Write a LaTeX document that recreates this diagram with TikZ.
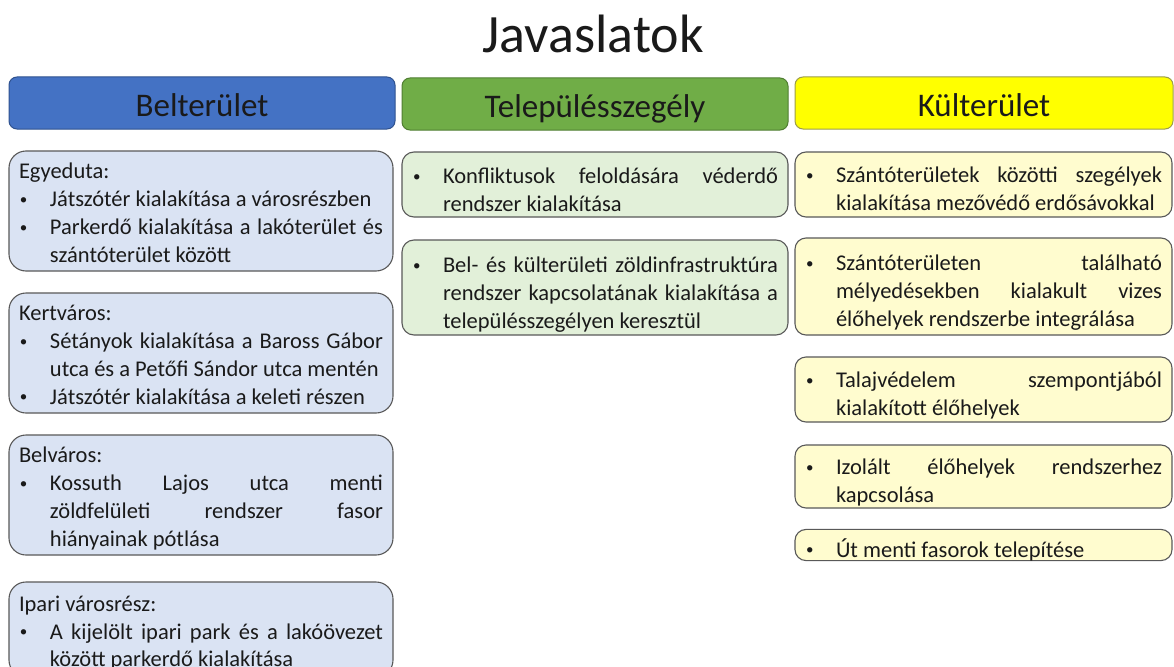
\documentclass[tikz,border=0pt]{standalone}
\usepackage{fontspec}
\setmainfont{Carlito}
\definecolor{hblue}{HTML}{4472C4}
\definecolor{hblueedge}{HTML}{2F528F}
\definecolor{hgreen}{HTML}{70AD47}
\definecolor{hgreenedge}{HTML}{507E32}
\definecolor{hyellow}{HTML}{FFFF00}
\definecolor{hyellowedge}{HTML}{9C9C4A}
\definecolor{lblue}{HTML}{DAE3F3}
\definecolor{lgreen}{HTML}{E2F0D9}
\definecolor{lyellow}{HTML}{FFFCCF}
\definecolor{boxedge}{HTML}{595959}
\definecolor{txt}{HTML}{1A1A1A}
\newcommand{\bxfont}{\fontsize{22.5pt}{27.8pt}\selectfont}
\newcommand{\bul}[1]{\par\noindent\makebox[31pt][l]{\hspace{1pt}\raisebox{2.5pt}{\fontsize{15pt}{15pt}\selectfont •}}%
  \parbox[t]{\dimexpr\hsize-31pt\relax}{#1\strut}\par\prevdepth=\dp\strutbox}
\newcommand{\botfix}[1]{\par\kern-#1\relax}
\tolerance=10000
\hyphenpenalty=10000
\begin{document}
\begin{tikzpicture}[x=1pt,y=-1pt,
  hdr/.style={draw, line width=1pt, rounded corners=8pt, minimum height=52pt,
    text height=27pt, text depth=0pt, inner sep=0pt, font=\fontsize{33pt}{38pt}\selectfont, text=txt},
  item/.style={draw=boxedge, line width=1.1pt, inner xsep=10pt, inner ysep=0pt,
    align=justify, font=\bxfont, text=txt},
  lbox/.style={item, fill=lblue, rounded corners=17pt, text width=364pt, minimum width=384pt,
    execute at end node={\botfix{12pt}}},
  mbox/.style={item, fill=lgreen, rounded corners=12pt, text width=366pt, minimum width=386pt,
    execute at end node={\botfix{7pt}}},
  rbox/.style={item, fill=lyellow, rounded corners=11pt, text width=357pt, minimum width=377pt,
    execute at end node={\botfix{5pt}}}]
\clip (0,0) rectangle (1174,666);
\fill[white] (0,0) rectangle (1174,666);

\node[anchor=base, font=\fontsize{54pt}{60pt}\selectfont, text=txt, inner sep=0pt] (title) at (593,53) {Javaslatok};

\node[hdr, fill=hblue, draw=hblueedge, minimum width=386pt] (hbel) at (202,103) {Belterület};
\node[hdr, fill=hgreen, draw=hgreenedge, minimum width=386pt] (hsz) at (595,104) {Településszegély};
\node[hdr, fill=hyellow, draw=hyellowedge, minimum width=378pt] (hkul) at (984,103) {Külterület};

% Belterulet
\node[lbox, minimum height=120pt] (l1) at (201,211) {\noindent Egyeduta:\par
\bul{Játszótér kialakítása a városrészben}
\bul{Parkerdő kialakítása a lakóterület és\linebreak szántóterület között}};
\node[lbox, minimum height=120pt] (l2) at (201,353) {\noindent Kertváros:\par
\bul{Sétányok kialakítása a Baross Gábor\linebreak utca és a Petőfi Sándor utca mentén}
\bul{Játszótér kialakítása a keleti részen}};
\node[lbox, minimum height=120pt] (l3) at (201,495) {\noindent Belváros:\par
\bul{Kossuth Lajos utca menti\linebreak zöldfelületi rendszer fasor\linebreak hiányainak pótlása}};
\node[lbox, minimum height=95pt] (l4) at (201,629.5) {\noindent Ipari városrész:\par
\bul{A kijelölt ipari park és a lakóövezet\linebreak között parkerdő kialakítása}};

% Telepulesszegely
\node[mbox, minimum height=65pt] (m1) at (595,184.5) {\bul{Konfliktusok feloldására véderdő\linebreak rendszer kialakítása}};
\node[mbox, minimum height=95pt] (m2) at (595,287.5) {\bul{Bel- és külterületi zöldinfrastruktúra\linebreak rendszer kapcsolatának kialakítása a\linebreak településszegélyen keresztül}};

% Kulterulet
\node[rbox, minimum height=65pt] (r1) at (983.5,184.5) {\bul{Szántóterületek közötti szegélyek\linebreak kialakítása mezővédő erdősávokkal}};
\node[rbox, minimum height=97pt] (r2) at (983.5,286.5) {\bul{Szántóterületen található\linebreak mélyedésekben kialakult vizes\linebreak élőhelyek rendszerbe integrálása}};
\node[rbox, minimum height=65pt] (r3) at (983.5,389.5) {\bul{Talajvédelem szempontjából\linebreak kialakított élőhelyek}};
\node[rbox, minimum height=63pt] (r4) at (983.5,476.5) {\bul{Izolált élőhelyek rendszerhez\linebreak kapcsolása}};
\node[rbox, minimum height=27pt] (r5) at (983.5,545) {\bul{Út menti fasorok telepítése}};
\end{tikzpicture}
\end{document}
